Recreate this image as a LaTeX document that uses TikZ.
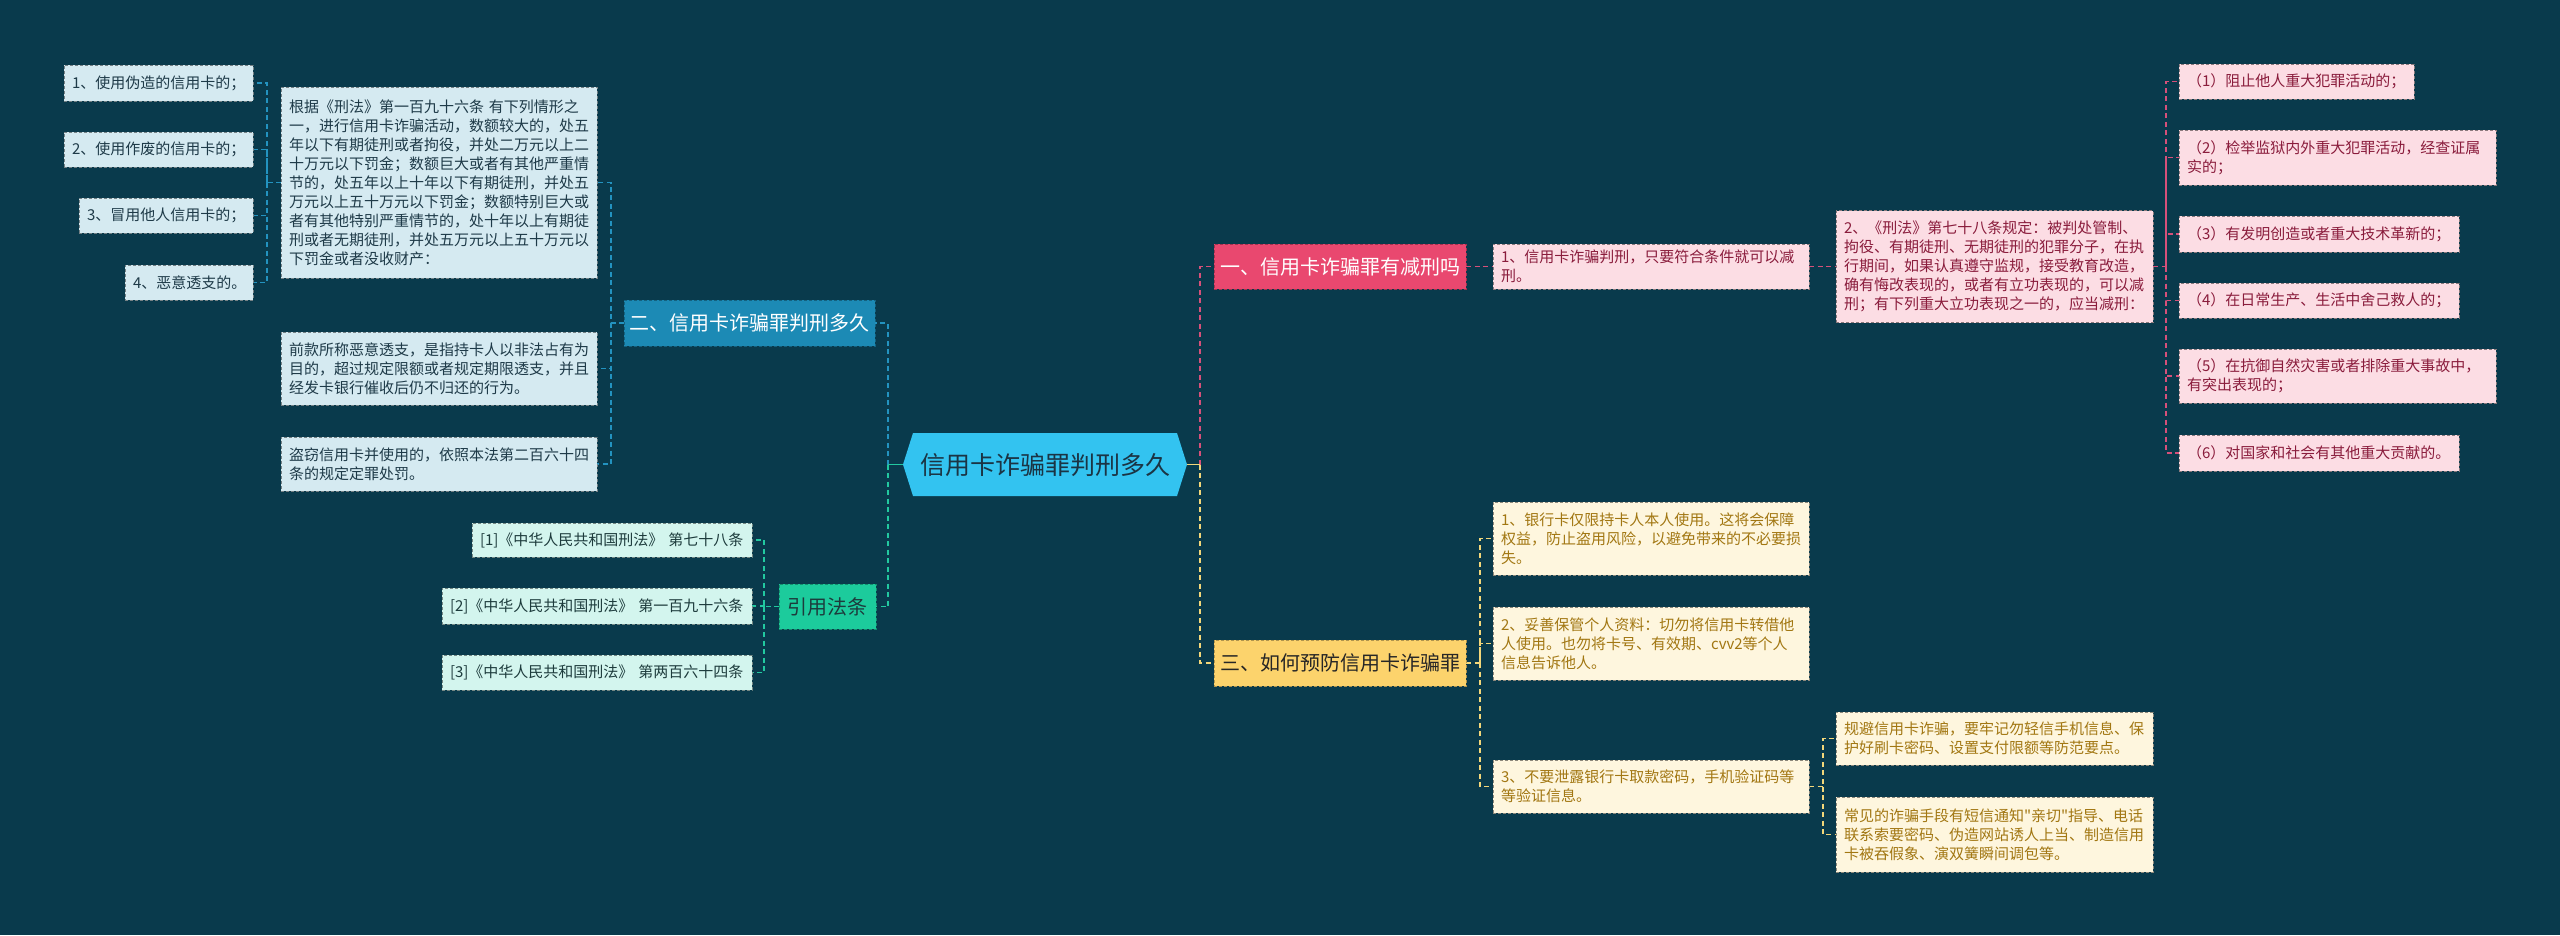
\documentclass[tikz,border=0pt]{standalone}
\usepackage{fontspec}
\newfontfamily\zhfont{Noto Sans CJK SC}
\usetikzlibrary{backgrounds}
\definecolor{bgc}{HTML}{093A4C}
\definecolor{cfill}{HTML}{33C3F0}
\definecolor{ctext}{HTML}{1B3444}
% blue
\definecolor{btitle}{HTML}{1C8AB5}
\definecolor{bchildfill}{HTML}{D5EAF1}
\definecolor{btext}{HTML}{1E3A48}
\definecolor{bline}{HTML}{2393C0}
% green
\definecolor{gtitle}{HTML}{1CCB9C}
\definecolor{gchildfill}{HTML}{D3F5EE}
\definecolor{gtext}{HTML}{1D3B3C}
\definecolor{gline}{HTML}{22C9A0}
% pink
\definecolor{ptitle}{HTML}{E9486F}
\definecolor{pchildfill}{HTML}{FCDDE4}
\definecolor{ptext}{HTML}{8A1C3C}
\definecolor{pline}{HTML}{D7507A}
% yellow
\definecolor{ytitle}{HTML}{FCD36C}
\definecolor{ychildfill}{HTML}{FEF6DE}
\definecolor{ytext}{HTML}{A27712}
\definecolor{yline}{HTML}{F3D77A}
\tikzset{
  basebox/.style={anchor=north west, inner xsep=8pt, inner ysep=0pt, outer sep=0pt,
    align=left, draw, line width=0.7pt, dash pattern=on 3pt off 2pt,
    font=\zhfont\fontsize{15}{19}\selectfont},
  bchild/.style={basebox, fill=bchildfill, draw=bchildfill!55!black, text=btext},
  gchild/.style={basebox, fill=gchildfill, draw=gchildfill!55!black, text=gtext},
  pchild/.style={basebox, fill=pchildfill, draw=pchildfill!55!black, text=ptext},
  ychild/.style={basebox, fill=ychildfill, draw=ychildfill!55!black, text=ytext},
  titlebox/.style={anchor=north west, inner sep=0pt, outer sep=0pt, align=center,
    draw, line width=0.7pt, dash pattern=on 3pt off 2pt,
    font=\zhfont\fontsize{20}{24}\selectfont},
  con/.style={line width=1.5pt, dash pattern=on 5pt off 3.5pt},
}
\begin{document}
\begin{tikzpicture}[x=1pt,y=-1pt]
\useasboundingbox (0,0) rectangle (2560,935);
% central
\node[inner sep=0pt, outer sep=0pt, minimum width=284pt, minimum height=63pt,
  text=ctext, font=\zhfont\fontsize{25}{30}\selectfont] (c) at (1045,464.5) {信用卡诈骗罪判刑多久};
% bus points
\coordinate (bL) at (888,464.5);
\coordinate (bR) at (1200,464.5);
% ---- blue branch
\node[titlebox, fill=btitle, draw=btitle!70!black, text=white, minimum width=251pt, minimum height=46pt] (er) at (624,300) {二、信用卡诈骗罪判刑多久};
\node[bchild, text width=300pt, minimum height=191pt] (big) at (281,87) {根据《刑法》第一百九十六条 有下列情形之\\一，进行信用卡诈骗活动，数额较大的，处五\\年以下有期徒刑或者拘役，并处二万元以上二\\十万元以下罚金；数额巨大或者有其他严重情\\节的，处五年以上十年以下有期徒刑，并处五\\万元以上五十万元以下罚金；数额特别巨大或\\者有其他特别严重情节的，处十年以上有期徒\\刑或者无期徒刑，并处五万元以上五十万元以\\下罚金或者没收财产：};
\node[bchild, text width=300pt, minimum height=73pt] (er2) at (281,332) {前款所称恶意透支，是指持卡人以非法占有为\\目的，超过规定限额或者规定期限透支，并且\\经发卡银行催收后仍不归还的行为。};
\node[bchild, text width=300pt, minimum height=54pt] (er3) at (281,437) {盗窃信用卡并使用的，依照本法第二百六十四\\条的规定定罪处罚。};
\node[bchild, text width=173pt, minimum height=36pt] (b1) at (64,65) {1、使用伪造的信用卡的；};
\node[bchild, text width=173pt, minimum height=35pt] (b2) at (64,132) {2、使用作废的信用卡的；};
\node[bchild, text width=158pt, minimum height=35pt] (b3) at (79,198) {3、冒用他人信用卡的；};
\node[bchild, text width=112pt, minimum height=35pt] (b4) at (125,265) {4、恶意透支的。};
\coordinate (erbus) at (611,323);
\coordinate (bigbus) at (267,182.5);
% ---- green branch
\node[titlebox, fill=gtitle, draw=gtitle!70!black, text=gtext, minimum width=97pt, minimum height=45pt] (yl) at (779,584) {引用法条};
\node[gchild, text width=264pt, minimum height=34pt] (g1) at (472,523) {[1]《中华人民共和国刑法》 第七十八条};
\node[gchild, text width=294pt, minimum height=36pt] (g2) at (442,588) {[2]《中华人民共和国刑法》 第一百九十六条};
\node[gchild, text width=294pt, minimum height=35pt] (g3) at (442,655) {[3]《中华人民共和国刑法》 第两百六十四条};
\coordinate (ylbus) at (764,606.5);
% ---- pink branch
\node[titlebox, fill=ptitle, draw=ptitle!70!black, text=white, minimum width=252pt, minimum height=45pt] (yi) at (1214,244) {一、信用卡诈骗罪有减刑吗};
\node[pchild, text width=300pt, minimum height=45pt] (p1) at (1493,244) {1、信用卡诈骗判刑，只要符合条件就可以减\\刑。};
\node[pchild, text width=301pt, minimum height=112pt] (p2) at (1836,210.5) {2、《刑法》第七十八条规定：被判处管制、\\拘役、有期徒刑、无期徒刑的犯罪分子，在执\\行期间，如果认真遵守监规，接受教育改造，\\确有悔改表现的，或者有立功表现的，可以减\\刑；有下列重大立功表现之一的，应当减刑：};
\node[pchild, text width=219pt, minimum height=35pt] (q1) at (2179,64) {（1）阻止他人重大犯罪活动的；};
\node[pchild, text width=301pt, minimum height=55pt] (q2) at (2179,130) {（2）检举监狱内外重大犯罪活动，经查证属\\实的；};
\node[pchild, text width=264pt, minimum height=36pt] (q3) at (2179,216) {（3）有发明创造或者重大技术革新的；};
\node[pchild, text width=264pt, minimum height=35pt] (q4) at (2179,283) {（4）在日常生产、生活中舍己救人的；};
\node[pchild, text width=301pt, minimum height=54pt] (q5) at (2179,349) {（5）在抗御自然灾害或者排除重大事故中，\\有突出表现的；};
\node[pchild, text width=264pt, minimum height=36pt] (q6) at (2179,435) {（6）对国家和社会有其他重大贡献的。};
\coordinate (p2bus) at (2166,266.5);
% ---- yellow branch
\node[titlebox, fill=ytitle, draw=ytitle!70!black, text=black!85, minimum width=252pt, minimum height=46pt] (sa) at (1214,640) {三、如何预防信用卡诈骗罪};
\node[ychild, text width=300pt, minimum height=73pt] (y1) at (1493,502) {1、银行卡仅限持卡人本人使用。这将会保障\\权益，防止盗用风险，以避免带来的不必要损\\失。};
\node[ychild, text width=300pt, minimum height=73pt] (y2) at (1493,607) {2、妥善保管个人资料：切勿将信用卡转借他\\人使用。也勿将卡号、有效期、cvv2等个人\\信息告诉他人。};
\node[ychild, text width=300pt, minimum height=53pt] (y3) at (1493,760) {3、不要泄露银行卡取款密码，手机验证码等\\等验证信息。};
\node[ychild, text width=301pt, minimum height=53pt] (z1) at (1836,712) {规避信用卡诈骗，要牢记勿轻信手机信息、保\\护好刷卡密码、设置支付限额等防范要点。};
\node[ychild, text width=301pt, minimum height=75pt] (z2) at (1836,797) {常见的诈骗手段有短信通知"亲切"指导、电话\\联系索要密码、伪造网站诱人上当、制造信用\\卡被吞假象、演双簧瞬间调包等。};
\coordinate (sabus) at (1480,663);
\coordinate (y3bus) at (1823,786.5);
% ---- background, hexagon and connectors
\begin{scope}[on background layer]
\fill[bgc] (0,0) rectangle (2560,935);
\fill[cfill] (c.west) -- ([xshift=10pt]c.north west) -- ([xshift=-10pt]c.north east) -- (c.east)
  -- ([xshift=-10pt]c.south east) -- ([xshift=10pt]c.south west) -- cycle;
% blue
\draw[con, bline] (bL) |- (er.east);
\draw[con, bline] (er.west) -- (erbus) |- (big.east);
\draw[con, bline] (erbus) |- (er2.east);
\draw[con, bline] (erbus) |- (er3.east);
\draw[con, bline] (big.west) -- (bigbus) |- (b1.east);
\draw[con, bline] (bigbus) |- (b2.east);
\draw[con, bline] (bigbus) |- (b3.east);
\draw[con, bline] (bigbus) |- (b4.east);
% green
\draw[con, gline] (bL) |- (yl.east);
\draw[gline, line width=1.5pt] (c.west) -- (bL);
\draw[con, gline] (yl.west) -- (ylbus) |- (g1.east);
\draw[con, gline] (ylbus) |- (g2.east);
\draw[con, gline] (ylbus) |- (g3.east);
% pink
\draw[con, pline] (bR) |- (yi.west);
\draw[con, pline] (yi.east) -- (p1.west);
\draw[con, pline] (p1.east) -- (p2.west);
\draw[con, pline] (p2.east) -- (p2bus) |- (q1.west);
\draw[con, pline] (p2bus) |- (q2.west);
\draw[con, pline] (p2bus) |- (q3.west);
\draw[con, pline] (p2bus) |- (q4.west);
\draw[con, pline] (p2bus) |- (q5.west);
\draw[con, pline] (p2bus) |- (q6.west);
% yellow
\draw[con, yline] (bR) |- (sa.west);
\draw[yline, line width=1.5pt] (c.east) -- (bR);
\draw[con, yline] (sa.east) -- (sabus) |- (y1.west);
\draw[con, yline] (sabus) |- (y2.west);
\draw[con, yline] (sabus) |- (y3.west);
\draw[con, yline] (y3.east) -- (y3bus) |- (z1.west);
\draw[con, yline] (y3bus) |- (z2.west);
\end{scope}
\end{tikzpicture}
\end{document}
